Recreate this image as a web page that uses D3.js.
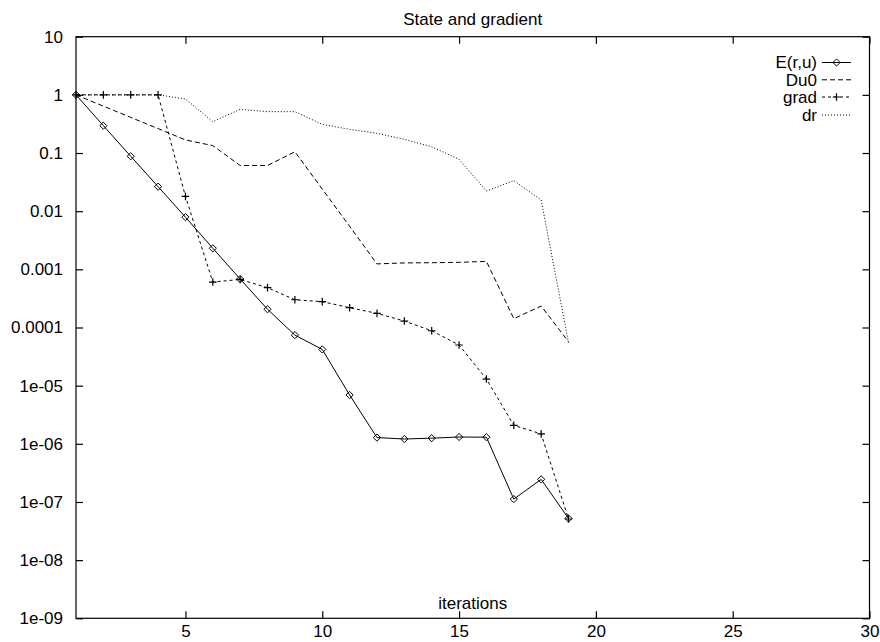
<!DOCTYPE html>
<html>
<head>
<meta charset="utf-8">
<script src="https://cdn.jsdelivr.net/npm/d3@7"></script>
<style>
  body { margin: 0; background: #fff; }
  svg text { font-family: 'Liberation Sans', Arial, sans-serif; font-size: 17px; fill: #000; }
</style>
</head>
<body>
<svg id="chart" width="880" height="642"></svg>
<script>
// values
var iterations = [1, 2, 3, 4, 5, 6, 7, 8, 9, 10, 11, 12, 13, 14, 15, 16, 17, 18, 19]
var energy = [1, 0.295, 0.088, 0.0264, 0.0079, 0.0023, 0.00068, 0.000206, 7.4e-5, 4.2e-5, 6.9e-6,
  1.28e-6, 1.21e-6, 1.25e-6, 1.31e-6, 1.30e-6, 1.12e-7, 2.45e-7, 5.2e-8]
var du0 = [1, 0.64, 0.41, 0.263, 0.168, 0.134, 0.061, 0.061, 0.105, 0.024, 0.0055,
  0.00124, 0.00129, 0.0013, 0.00132, 0.00137, 0.000142, 0.000234, 5.7e-5]
var grad = [1, 1, 1, 1, 0.018, 0.000605, 0.00067, 0.000484, 0.0003, 0.000278, 0.000219,
  0.000175, 0.000129, 8.8e-5, 5.0e-5, 1.3e-5, 2.08e-6, 1.48e-6, 5.1e-8]
var dr = [1, 1, 1, 1, 0.85, 0.346, 0.564, 0.514, 0.514, 0.311, 0.255,
  0.218, 0.172, 0.128, 0.0779, 0.0222, 0.0335, 0.0156, 5.5e-5]

var xTicks = [5, 10, 15, 20, 25, 30]
var yTicks = [10, 1, 0.1, 0.01, 0.001, 0.0001, 1e-5, 1e-6, 1e-7, 1e-8, 1e-9]
var yTickLabels = ['10', '1', '0.1', '0.01', '0.001', '0.0001', '1e-05', '1e-06', '1e-07', '1e-08', '1e-09']

var titleText = 'State and gradient'
var xLabelText = 'iterations'

var seriesList = [
  { name: 'E(r,u)', values: energy, dash: null, marker: 'diamond' },
  { name: 'Du0', values: du0, dash: '5,3', marker: null },
  { name: 'grad', values: grad, dash: '3,3', marker: 'plus' },
  { name: 'dr', values: dr, dash: '1,2', marker: null }
]

// plot box (window.top is read-only, so keep these names distinct)
var plotLeft = 76, plotRight = 869.5, plotTop = 36.7, plotBottom = 618.3

var svg = d3.select('#chart')

var x = d3.scaleLinear().domain([1, 30]).range([plotLeft, plotRight])
var y = d3.scaleLog().domain([1e-9, 10]).range([plotBottom, plotTop])

// frame
svg.append('rect')
  .attr('x', plotLeft).attr('y', plotTop)
  .attr('width', plotRight - plotLeft).attr('height', plotBottom - plotTop)
  .attr('fill', 'none').attr('stroke', '#000').attr('stroke-width', 1.2)

// ticks, inward on all four sides like gnuplot
var tickLen = 7

var xAxisBottom = d3.axisBottom(x).tickValues(xTicks).tickSize(-tickLen).tickPadding(tickLen + 3).tickFormat(d3.format('d'))
var gxb = svg.append('g').attr('transform', 'translate(0,' + plotBottom + ')').call(xAxisBottom)
var xAxisTop = d3.axisTop(x).tickValues(xTicks).tickSize(-tickLen).tickFormat('')
var gxt = svg.append('g').attr('transform', 'translate(0,' + plotTop + ')').call(xAxisTop)

var yAxisLeft = d3.axisLeft(y).tickValues(yTicks).tickSize(-tickLen).tickPadding(tickLen + 6)
  .tickFormat(function (d, i) { return yTickLabels[i] })
var gyl = svg.append('g').attr('transform', 'translate(' + plotLeft + ',0)').call(yAxisLeft)
var yAxisRight = d3.axisRight(y).tickValues(yTicks).tickSize(-tickLen).tickFormat('')
var gyr = svg.append('g').attr('transform', 'translate(' + plotRight + ',0)').call(yAxisRight)

var axes = [gxb, gxt, gyl, gyr]
axes.forEach(function (g) {
  g.select('.domain').remove()
  g.selectAll('line').attr('stroke', '#000').attr('stroke-width', 1.2)
  g.selectAll('text').attr('font-family', null).attr('font-size', null)
})
gxb.selectAll('text').attr('dy', '0.5em')

// title and x label
svg.append('text')
  .attr('x', (plotLeft + plotRight) / 2).attr('y', 19.5).attr('dy', '0.35em')
  .attr('text-anchor', 'middle').text(titleText)

svg.append('text')
  .attr('x', (plotLeft + plotRight) / 2).attr('y', 603).attr('dy', '0.35em')
  .attr('text-anchor', 'middle').text(xLabelText)

// markers
function drawMarker (g, kind, cx, cy) {
  if (kind === 'diamond') {
    var s = 3.6
    g.append('path')
      .attr('d', 'M' + cx + ',' + (cy - s) + 'L' + (cx + s) + ',' + cy + 'L' + cx + ',' + (cy + s) + 'L' + (cx - s) + ',' + cy + 'Z')
      .attr('fill', 'none').attr('stroke', '#000').attr('stroke-width', 1)
  } else if (kind === 'plus') {
    var p = 3.8
    g.append('path')
      .attr('d', 'M' + (cx - p) + ',' + cy + 'H' + (cx + p) + 'M' + cx + ',' + (cy - p) + 'V' + (cy + p))
      .attr('stroke', '#000').attr('stroke-width', 1.2)
  }
}

var line = d3.line()
  .x(function (d) { return x(d[0]) })
  .y(function (d) { return y(d[1]) })

var plot = svg.append('g')

// draw later series first so E(r,u) ends on top
seriesList.slice().reverse().forEach(function (s) {
  var pts = iterations.map(function (it, i) { return [it, s.values[i]] })
  var g = plot.append('g')
  g.append('path')
    .datum(pts)
    .attr('d', line)
    .attr('fill', 'none')
    .attr('stroke', '#000')
    .attr('stroke-width', 1)
    .attr('stroke-dasharray', s.dash)
  if (s.marker) {
    pts.forEach(function (p) { drawMarker(g, s.marker, x(p[0]), y(p[1])) })
  }
})

// legend
var legendTextX = 817, sampleX0 = 822, sampleX1 = 851
var legendRows = [62.5, 79.8, 97, 115]

seriesList.forEach(function (s, i) {
  var ly = legendRows[i]
  var g = svg.append('g')
  g.append('text')
    .attr('x', legendTextX).attr('y', ly).attr('dy', '0.35em')
    .attr('text-anchor', 'end').text(s.name)
  g.append('line')
    .attr('x1', sampleX0).attr('x2', sampleX1)
    .attr('y1', ly).attr('y2', ly)
    .attr('stroke', '#000').attr('stroke-width', 1)
    .attr('stroke-dasharray', s.dash)
  if (s.marker) {
    drawMarker(g, s.marker, (sampleX0 + sampleX1) / 2, ly)
  }
})
</script>
</body>
</html>
